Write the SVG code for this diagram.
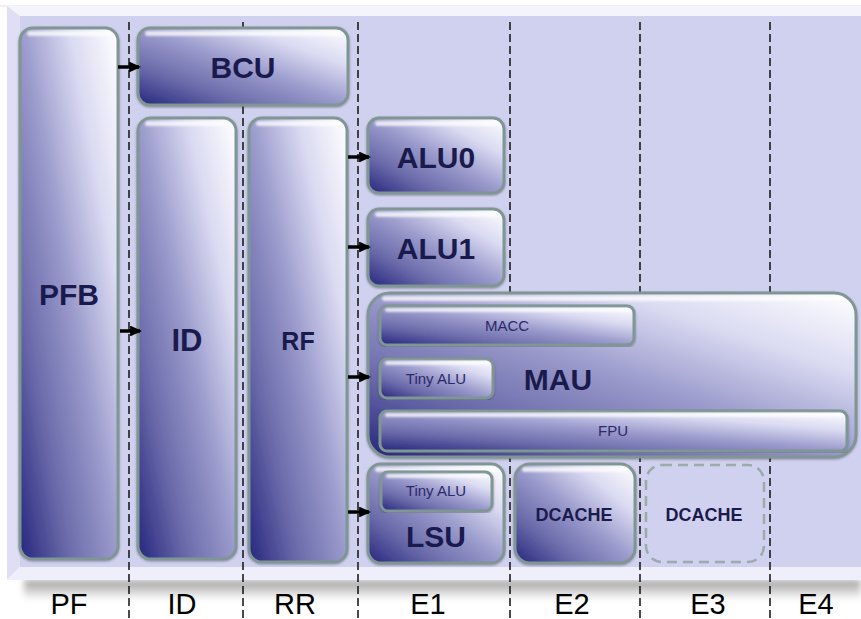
<svg xmlns="http://www.w3.org/2000/svg" width="861" height="619" viewBox="0 0 861 619">
  <defs>
    <style>
      .box { stroke: #7f9694; stroke-width: 3; fill: url(#body); filter: url(#drop); }
      .shine { fill: #ffffff; opacity: 0.75; filter: url(#soft); }
      .big { font-family: "Liberation Sans", Arial, sans-serif; font-weight: bold; fill: #1a1a4c; text-anchor: middle; }
      .small { font-family: "Liberation Sans", Arial, sans-serif; fill: #2a2a6a; text-anchor: middle; font-size: 15px; }
      .stage { font-family: "Liberation Sans", Arial, sans-serif; fill: #000000; text-anchor: middle; font-size: 29px; }
      .div { stroke: #111111; stroke-width: 1.5; stroke-dasharray: 8 4; fill: none; }
      .arrow { stroke: #000000; stroke-width: 3.5; fill: none; marker-end: url(#head); }
    </style>
    <linearGradient id="body" x1="0" y1="1" x2="1" y2="0">
      <stop offset="0" stop-color="#26267e"/>
      <stop offset="0.25" stop-color="#6a6aaa"/>
      <stop offset="0.5" stop-color="#9a9acc"/>
      <stop offset="0.75" stop-color="#dadaf2"/>
      <stop offset="1" stop-color="#ffffff"/>
    </linearGradient>
    <linearGradient id="shadow" x1="0" y1="0" x2="0" y2="1">
      <stop offset="0" stop-color="#9c9c9c"/>
      <stop offset="1" stop-color="#ffffff"/>
    </linearGradient>
    <filter id="soft" x="-10%" y="-100%" width="120%" height="300%">
      <feGaussianBlur stdDeviation="1.2"/>
    </filter>
    <filter id="drop" x="-5%" y="-5%" width="110%" height="110%">
      <feDropShadow dx="0" dy="1" stdDeviation="1" flood-color="#303040" flood-opacity="0.45"/>
    </filter>
    <filter id="blurShadow" x="-5%" y="-50%" width="110%" height="200%">
      <feGaussianBlur stdDeviation="3"/>
    </filter>
    <!-- solid triangular arrowhead, about 12 x 11 px on a 3.5 px line -->
    <marker id="head" viewBox="0 0 12 11" refX="10" refY="5.5" markerWidth="3.4" markerHeight="3.1" orient="auto" markerUnits="strokeWidth">
      <path d="M0,0 L12,5.5 L0,11 z" fill="#000000"/>
    </marker>
  </defs>

  <rect x="0" y="0" width="861" height="619" fill="#ffffff"/>

  <!-- backdrop panel with bevelled edges -->
  <g id="panel">
    <rect x="24" y="580" width="837" height="20" fill="url(#shadow)" filter="url(#blurShadow)"/>
    <line x1="0" y1="6" x2="861" y2="6" stroke="#e2e2e6" stroke-width="1"/>
    <polygon points="7,6 861,6 861,16 20,16" fill="#f4f4fc"/>
    <polygon points="7,6 20,16 20,567 7,580" fill="#dedef5"/>
    <polygon points="7,580 20,567 861,567 861,580" fill="#efeffb"/>
    <rect x="20" y="16" width="841" height="551" fill="#d0d0ef"/>
  </g>

  <!-- pipeline stage boundaries -->
  <g id="stage-lines">
    <line class="div" x1="129" y1="22" x2="129" y2="619"/>
    <line class="div" x1="243" y1="22" x2="243" y2="619"/>
    <line class="div" x1="358" y1="22" x2="358" y2="619"/>
    <line class="div" x1="510" y1="22" x2="510" y2="619"/>
    <line class="div" x1="640" y1="22" x2="640" y2="619"/>
    <line class="div" x1="770" y1="22" x2="770" y2="619"/>
  </g>

  <g id="PFB">
    <rect class="box" x="20" y="28" width="98" height="531" rx="13"/>
    <rect class="shine" x="27" y="31" width="84" height="5" rx="2.5"/>
    <text class="big" x="69" y="305" font-size="30">PFB</text>
  </g>

  <g id="BCU">
    <rect class="box" x="138" y="28" width="210" height="77" rx="12"/>
    <rect class="shine" x="145" y="31" width="196" height="5" rx="2.5"/>
    <text class="big" x="243" y="78" font-size="30">BCU</text>
  </g>

  <g id="ID">
    <rect class="box" x="138" y="118" width="98" height="441" rx="13"/>
    <rect class="shine" x="145" y="121" width="84" height="5" rx="2.5"/>
    <text class="big" x="187" y="351" font-size="31">ID</text>
  </g>

  <g id="RF">
    <rect class="box" x="249" y="118" width="98" height="444" rx="13"/>
    <rect class="shine" x="256" y="121" width="84" height="5" rx="2.5"/>
    <text class="big" x="298" y="350" font-size="25">RF</text>
  </g>

  <g id="ALU0">
    <rect class="box" x="368" y="118" width="136" height="75" rx="11"/>
    <rect class="shine" x="375" y="121" width="122" height="5" rx="2.5"/>
    <text class="big" x="436" y="168" font-size="30">ALU0</text>
  </g>

  <g id="ALU1">
    <rect class="box" x="368" y="209" width="136" height="77" rx="11"/>
    <rect class="shine" x="375" y="212" width="122" height="5" rx="2.5"/>
    <text class="big" x="436" y="259" font-size="30">ALU1</text>
  </g>

  <g id="MAU">
    <rect class="box" x="368" y="293" width="488" height="164" rx="22"/>
    <rect class="shine" x="382" y="296" width="460" height="5" rx="2.5"/>
    <text class="big" x="558" y="390" font-size="30">MAU</text>
    <g id="MACC">
      <rect class="box" x="380" y="306" width="254" height="39" rx="7"/>
      <rect class="shine" x="385" y="308" width="244" height="4" rx="2"/>
      <text class="small" x="507" y="331">MACC</text>
    </g>
    <g id="MAU-TinyALU">
      <rect class="box" x="380" y="359" width="113" height="39" rx="7"/>
      <rect class="shine" x="385" y="361" width="103" height="4" rx="2"/>
      <text class="small" x="436" y="384">Tiny ALU</text>
    </g>
    <g id="FPU">
      <rect class="box" x="380" y="411" width="467" height="40" rx="7"/>
      <rect class="shine" x="385" y="413" width="457" height="4" rx="2"/>
      <text class="small" x="613" y="436">FPU</text>
    </g>
  </g>

  <g id="LSU">
    <rect class="box" x="368" y="464" width="136" height="99" rx="13"/>
    <rect class="shine" x="375" y="467" width="122" height="5" rx="2.5"/>
    <g id="LSU-TinyALU">
      <rect class="box" x="381" y="472" width="111" height="39" rx="7"/>
      <rect class="shine" x="386" y="474" width="101" height="4" rx="2"/>
      <text class="small" x="436" y="496">Tiny ALU</text>
    </g>
    <text class="big" x="436" y="547" font-size="30">LSU</text>
  </g>

  <g id="DCACHE-E2">
    <rect class="box" x="515" y="464" width="120" height="99" rx="15"/>
    <rect class="shine" x="522" y="467" width="106" height="5" rx="2.5"/>
    <text class="big" x="574" y="521" font-size="18">DCACHE</text>
  </g>

  <g id="DCACHE-E3">
    <rect x="646" y="465" width="118" height="97" rx="16" fill="none" stroke="#9aaba8" stroke-width="2.5" stroke-dasharray="10 6"/>
    <text class="big" x="704" y="521" font-size="18">DCACHE</text>
  </g>

  <g id="connectors">
    <line class="arrow" x1="118" y1="67" x2="139" y2="67"/>
    <line class="arrow" x1="120" y1="331" x2="140" y2="331"/>
    <line class="arrow" x1="348" y1="157" x2="369" y2="157"/>
    <line class="arrow" x1="348" y1="247" x2="369" y2="247"/>
    <line class="arrow" x1="348" y1="377" x2="369" y2="377"/>
    <line class="arrow" x1="348" y1="512" x2="369" y2="512"/>
  </g>

  <g id="stage-labels">
    <text class="stage" x="69" y="614">PF</text>
    <text class="stage" x="182" y="614">ID</text>
    <text class="stage" x="295" y="614">RR</text>
    <text class="stage" x="428" y="614">E1</text>
    <text class="stage" x="572" y="614">E2</text>
    <text class="stage" x="708" y="614">E3</text>
    <text class="stage" x="816" y="614">E4</text>
  </g>
</svg>
